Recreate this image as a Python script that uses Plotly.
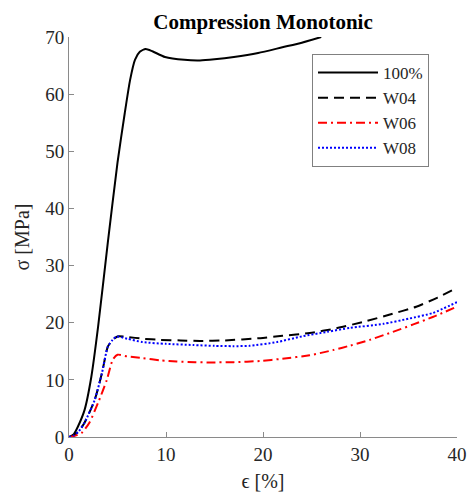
import plotly.graph_objects as go

# Strain [%] and stress [MPa]
strain_100 = [0, 0.5, 0.9, 1.6, 2.3, 3.0, 4.0, 5.0, 5.75, 6.3, 6.8, 7.3, 7.9, 8.6, 9.9, 11.9, 13.5, 15, 17, 19.5, 22, 24, 26]
stress_100 = [0, 0.5, 1.75, 4.7, 10.5, 19.3, 34, 48, 56.7, 62.5, 66, 67.4, 67.9, 67.5, 66.5, 66.0, 65.9, 66.1, 66.5, 67.2, 68.2, 69.0, 70.0]

strain_w04 = [0, 0.5, 1.0, 1.6, 2.65, 3.4, 4.0, 4.5, 5.0, 6, 7.6, 9.4, 11.5, 13.5, 16, 19.7, 22, 24.8, 27.5, 30.7, 33, 35.8, 38, 40]
stress_w04 = [0, 0.3, 1.0, 2.5, 6.5, 11.2, 15.8, 17.0, 17.6, 17.5, 17.2, 17.0, 16.9, 16.8, 16.9, 17.3, 17.7, 18.2, 19.0, 20.3, 21.4, 22.8, 24.4, 26.1]

strain_w06 = [0, 0.6, 1.3, 2.1, 3.0, 3.9, 4.5, 5.0, 6, 7.6, 9.5, 11.1, 13, 14.5, 17, 19.7, 22, 24.8, 27.2, 29, 31, 33.4, 35.5, 37.5, 40]
stress_w06 = [0, 0.2, 0.7, 2.5, 6.0, 10.0, 13.5, 14.4, 14.1, 13.8, 13.4, 13.2, 13.1, 13.05, 13.1, 13.3, 13.7, 14.3, 15.2, 16.0, 17.0, 18.4, 19.7, 21.0, 22.8]

strain_w08 = [0, 0.5, 1.0, 1.6, 2.65, 3.4, 4.0, 4.5, 4.9, 6, 7.6, 10, 12.8, 15, 16.9, 18.6, 21.4, 24, 26.6, 29, 32.4, 35, 37.5, 40]
stress_w08 = [0, 0.3, 1.0, 2.5, 6.5, 11.2, 15.8, 17.0, 17.6, 17.2, 16.6, 16.3, 16.1, 15.95, 15.9, 15.95, 16.6, 17.6, 18.4, 19.1, 19.8, 20.7, 21.7, 23.6]

x_ticks = [0, 10, 20, 30, 40]
y_ticks = [0, 10, 20, 30, 40, 50, 60, 70]

FONT = "Liberation Serif"

fig = go.Figure()
fig.add_trace(go.Scatter(x=strain_100, y=stress_100, name="100%", mode="lines",
                         line=dict(color="black", width=2, shape="spline", smoothing=0.6)))
fig.add_trace(go.Scatter(x=strain_w04, y=stress_w04, name="W04", mode="lines",
                         line=dict(color="black", width=2, dash="10px,6px", shape="spline", smoothing=0.6)))
fig.add_trace(go.Scatter(x=strain_w06, y=stress_w06, name="W06", mode="lines",
                         line=dict(color="red", width=2, dash="9px,4px,2px,4px", shape="spline", smoothing=0.6)))
fig.add_trace(go.Scatter(x=strain_w08, y=stress_w08, name="W08", mode="lines",
                         line=dict(color="blue", width=2, dash="2px,2px", shape="spline", smoothing=0.6)))

axis_common = dict(
    showgrid=False, zeroline=False, showline=True, linecolor="#8a8a8a", linewidth=1,
    ticks="inside", ticklen=5, tickcolor="#8a8a8a", tickwidth=1,
    tickfont=dict(family=FONT, size=19, color="#262626"),
    mirror=False, automargin=False,
)

fig.update_layout(
    width=470, height=498,
    paper_bgcolor="white", plot_bgcolor="white",
    margin=dict(l=69, r=13, t=37, b=61, autoexpand=False),
    font=dict(family=FONT, color="#262626"),
    title=dict(text="<b>Compression Monotonic</b>", x=263 / 470, xanchor="center",
               y=1 - 22 / 498, yanchor="middle", yref="container",
               font=dict(family=FONT, size=21, color="black")),
    xaxis=dict(range=[0, 40], tickvals=x_ticks, ticktext=[str(v) for v in x_ticks],
               title=dict(text="ϵ [%]", font=dict(family=FONT, size=20, color="#262626"), standoff=10),
               **axis_common),
    yaxis=dict(range=[0, 70], tickvals=y_ticks, ticktext=[str(v) for v in y_ticks],
               title=dict(text="σ [MPa]", font=dict(family=FONT, size=20, color="#262626"), standoff=10),
               **axis_common),
    legend=dict(x=(312 - 69) / 388, y=(437 - 54) / 400, xanchor="left", yanchor="top",
                bgcolor="white", bordercolor="#808080", borderwidth=1,
                font=dict(family=FONT, size=17, color="#262626"),
                itemwidth=60, tracegroupgap=0),
    showlegend=True,
)

fig.write_html("out.html", config={"displayModeBar": False},
               post_script="document.body.style.margin='0';document.body.style.overflow='hidden';")
